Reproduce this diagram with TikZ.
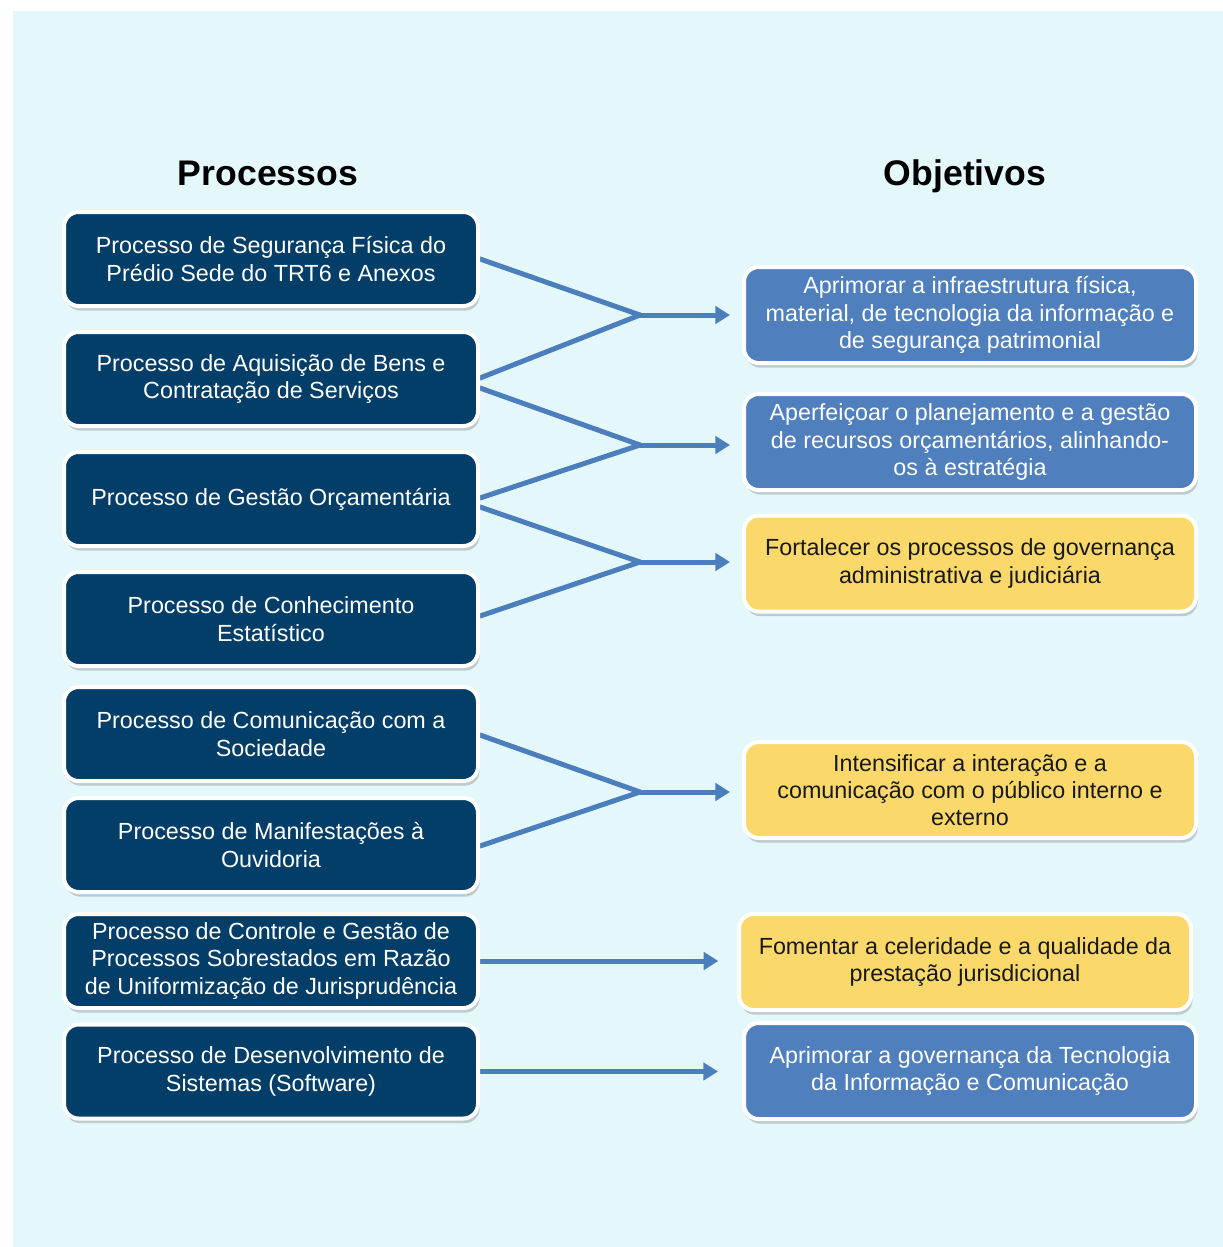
\documentclass[tikz,border=0pt]{standalone}
\usepackage{fontspec}
\setmainfont{Liberation Sans}
\usetikzlibrary{arrows.meta,shadows,calc}
\definecolor{pagebg}{RGB}{228,247,251}
\definecolor{navy}{RGB}{3,62,105}
\definecolor{midblue}{RGB}{79,128,189}
\definecolor{goldbox}{RGB}{250,217,106}
\definecolor{linkblue}{RGB}{75,126,188}
\pgfdeclarelayer{back}
\pgfsetlayers{back,main}
\tikzset{
  card/.style={draw=white, line width=3pt, rounded corners=11pt, align=center,
    inner sep=0pt, font=\fontsize{17.5}{20.5}\selectfont,
    drop shadow={shadow xshift=1.2pt, shadow yshift=-3.5pt, opacity=0.3, fill=black!60}},
  proc/.style={card, fill=navy, text=white, minimum width=310.5pt, minimum height=70.5pt},
  goalblue/.style={card, fill=midblue, text=white, minimum width=339pt, minimum height=72pt},
  goalgold/.style={card, fill=goldbox, text=black!90, minimum width=339pt, minimum height=72pt},
  heading/.style={font=\fontsize{26.7}{30}\selectfont\bfseries, anchor=base},
  link/.style={draw=linkblue, line width=3.75pt, line cap=round},
  flow/.style={draw=linkblue, line width=3.75pt, -{Triangle[length=11pt,width=13pt]}},
}
\begin{document}
\begin{tikzpicture}[x=0.75pt,y=-0.75pt]
\useasboundingbox (0,0) rectangle (1223,1247);
\begin{pgfonlayer}{back}
  \fill[white] (0,0) rectangle (1223,1247);
  \fill[pagebg] (13,11) rectangle (1223,1247);
\end{pgfonlayer}

% column titles
\node[heading] (hp) at (268,185) {Processos};
\node[heading] (ho) at (965,185) {Objetivos};

% processes
\node[proc] (L1) at (271,259) {Processo de Segurança Física do\\Prédio Sede do TRT6 e Anexos};
\node[proc] (L2) at (271,379) {Processo de Aquisição de Bens e\\Contratação de Serviços};
\node[proc] (L3) at (271,499) {Processo de Gestão Orçamentária};
\node[proc] (L4) at (271,619) {Processo de Conhecimento\\Estatístico};
\node[proc] (L5) at (271,734) {Processo de Comunicação com a\\Sociedade};
\node[proc] (L6) at (271,845) {Processo de Manifestações à\\Ouvidoria};
\node[proc] (L7) at (271,961) {Processo de Controle e Gestão de\\Processos Sobrestados em Razão\\de Uniformização de Jurisprudência};
\node[proc] (L8) at (271,1071.5) {Processo de Desenvolvimento de\\Sistemas (Software)};

% objectives
\node[goalblue] (R1) at (970,315) {Aprimorar a infraestrutura física,\\material, de tecnologia da informação e\\de segurança patrimonial};
\node[goalblue] (R2) at (970,442) {Aperfeiçoar o planejamento e a gestão\\de recursos orçamentários, alinhando-\\os à estratégia};
\node[goalgold] (R3) at (970,563.5) {Fortalecer os processos de governança\\administrativa e judiciária};
\node[goalgold] (R4) at (970,790) {Intensificar a interação e a\\comunicação com o público interno e\\externo};
\node[goalgold] (R5) at (965,962) {Fomentar a celeridade e a qualidade da\\prestação jurisdicional};
\node[goalblue] (R6) at (970,1071) {Aprimorar a governança da Tecnologia\\da Informação e Comunicação};

% merge points
\coordinate (J1) at (640,315);
\coordinate (J2) at (640,445);
\coordinate (J3) at (640,562);
\coordinate (J4) at (640,792);

\begin{pgfonlayer}{back}
  \draw[link] (L1.east) -- (J1);
  \draw[link] ($(L2.east)+(0,-1)$) -- (J1);
  \draw[link] ($(L2.east)+(0,9)$) -- (J2);
  \draw[link] ($(L3.east)+(0,-1)$) -- (J2);
  \draw[link] ($(L3.east)+(0,8)$) -- (J3);
  \draw[link] ($(L4.east)+(0,-3)$) -- (J3);
  \draw[link] ($(L5.east)+(0,1)$) -- (J4);
  \draw[link] ($(L6.east)+(0,1)$) -- (J4);
  \draw[flow, shorten >=9pt] (J1) -- (J1 -| R1.west);
  \draw[flow, shorten >=9pt] (J2) -- (J2 -| R2.west);
  \draw[flow, shorten >=9pt] (J3) -- (J3 -| R3.west);
  \draw[flow, shorten >=9pt] (J4) -- (J4 -| R4.west);
  \draw[flow, shorten >=14pt] (L7.east) -- (L7.east -| R5.west);
  \draw[flow, shorten >=18pt] (L8.east) -- (L8.east -| R6.west);
\end{pgfonlayer}
\end{tikzpicture}
\end{document}
